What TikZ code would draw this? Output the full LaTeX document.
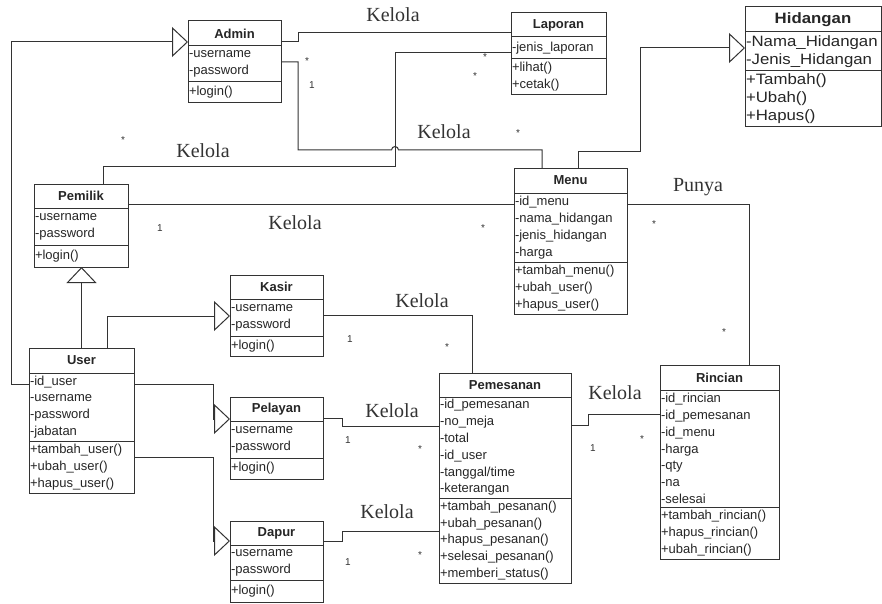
\documentclass[tikz,border=0pt]{standalone}
\usepackage{fontspec}
\setmainfont{Liberation Serif}
\newfontfamily\umlfont{Liberation Sans}
\newfontfamily\hidfont[FakeStretch=1.12]{Liberation Sans}
\usetikzlibrary{arrows.meta,positioning}

\tikzset{
  umltitle/.style={draw=black!80, line width=1pt, anchor=north west, inner sep=0pt, outer sep=0pt,
    text=black!85, font=\umlfont\fontsize{13}{16}\selectfont\bfseries},
  umlbody/.style={draw=black!80, line width=1pt, inner xsep=1pt, inner ysep=0pt, outer sep=0pt,
    align=left, text=black!85, font=\umlfont\fontsize{13}{16.8}\selectfont},
  assoc/.style={draw=black!80, line width=1pt},
  gen/.style={draw=black!80, line width=1pt, -{Triangle[open, length=16pt, width=30pt]}},
  rel/.style={inner sep=0pt, text=black!80, font=\fontsize{20}{20}\selectfont},
  mult/.style={inner sep=0pt, text=black!80, font=\umlfont\fontsize{10}{10}\selectfont}
}

\begin{document}
\begin{tikzpicture}[x=1pt,y=-1pt]
\path[fill=white] (0,0) rectangle (882,604);

% classes
\node[umltitle, minimum width=93pt, minimum height=25pt] (admin) at (188,21) {Admin};
\node[umlbody, text width=91pt, minimum height=36pt, below=0pt of admin] (adminA) {-username\\-password};
\node[umlbody, text width=91pt, minimum height=21pt, below=0pt of adminA] (adminM) {+login()};

\node[umltitle, minimum width=95pt, minimum height=24pt] (laporan) at (511,13) {Laporan};
\node[umlbody, text width=93pt, minimum height=22pt, below=0pt of laporan] (laporanA) {-jenis\_laporan};
\node[umlbody, text width=93pt, minimum height=36pt, below=0pt of laporanA] (laporanM) {+lihat()\\+cetak()};

\node[umltitle, minimum width=136pt, minimum height=25pt, font=\hidfont\fontsize{15}{19}\selectfont\bfseries] (hidangan) at (745,7) {Hidangan};
\node[umlbody, text width=134pt, minimum height=39pt, below=0pt of hidangan, font=\hidfont\fontsize{15}{18}\selectfont] (hidanganA) {-Nama\_Hidangan\\-Jenis\_Hidangan};
\node[umlbody, text width=134pt, minimum height=56pt, below=0pt of hidanganA, font=\hidfont\fontsize{15}{18}\selectfont] (hidanganM) {+Tambah()\\+Ubah()\\+Hapus()};

\node[umltitle, minimum width=94pt, minimum height=24pt] (pemilik) at (34,184) {Pemilik};
\node[umlbody, text width=92pt, minimum height=37pt, below=0pt of pemilik] (pemilikA) {-username\\-password};
\node[umlbody, text width=92pt, minimum height=22pt, below=0pt of pemilikA] (pemilikM) {+login()};

\node[umltitle, minimum width=113pt, minimum height=25pt] (menu) at (514,168) {Menu};
\node[umlbody, text width=111pt, minimum height=69pt, below=0pt of menu] (menuA) {-id\_menu\\-nama\_hidangan\\-jenis\_hidangan\\-harga};
\node[umlbody, text width=111pt, minimum height=52pt, below=0pt of menuA] (menuM) {+tambah\_menu()\\+ubah\_user()\\+hapus\_user()};

\node[umltitle, minimum width=93pt, minimum height=24pt] (kasir) at (230,275) {Kasir};
\node[umlbody, text width=91pt, minimum height=37pt, below=0pt of kasir] (kasirA) {-username\\-password};
\node[umlbody, text width=91pt, minimum height=20pt, below=0pt of kasirA] (kasirM) {+login()};

\node[umltitle, minimum width=105pt, minimum height=25pt] (user) at (29,348) {User};
\node[umlbody, text width=103pt, minimum height=68pt, below=0pt of user] (userA) {-id\_user\\-username\\-password\\-jabatan};
\node[umlbody, text width=103pt, minimum height=52pt, below=0pt of userA] (userM) {+tambah\_user()\\+ubah\_user()\\+hapus\_user()};

\node[umltitle, minimum width=93pt, minimum height=24pt] (pelayan) at (230,397) {Pelayan};
\node[umlbody, text width=91pt, minimum height=37pt, below=0pt of pelayan] (pelayanA) {-username\\-password};
\node[umlbody, text width=91pt, minimum height=21pt, below=0pt of pelayanA] (pelayanM) {+login()};

\node[umltitle, minimum width=93pt, minimum height=24pt] (dapur) at (230,521) {Dapur};
\node[umlbody, text width=91pt, minimum height=35pt, below=0pt of dapur] (dapurA) {-username\\-password};
\node[umlbody, text width=91pt, minimum height=22pt, below=0pt of dapurA] (dapurM) {+login()};

\node[umltitle, minimum width=132pt, minimum height=24pt] (pemesanan) at (439,373) {Pemesanan};
\node[umlbody, text width=130pt, minimum height=101pt, below=0pt of pemesanan] (pemesananA) {-id\_pemesanan\\-no\_meja\\-total\\-id\_user\\-tanggal/time\\-keterangan};
\node[umlbody, text width=130pt, minimum height=85pt, below=0pt of pemesananA] (pemesananM) {+tambah\_pesanan()\\+ubah\_pesanan()\\+hapus\_pesanan()\\+selesai\_pesanan()\\+memberi\_status()};

\node[umltitle, minimum width=119pt, minimum height=25pt] (rincian) at (660,365) {Rincian};
\node[umlbody, text width=117pt, minimum height=117pt, below=0pt of rincian] (rincianA) {-id\_rincian\\-id\_pemesanan\\-id\_menu\\-harga\\-qty\\-na\\-selesai};
\node[umlbody, text width=117pt, minimum height=52pt, below=0pt of rincianA] (rincianM) {+tambah\_rincian()\\+hapus\_rincian()\\+ubah\_rincian()};

% generalisation
\draw[gen] ([yshift=23pt]userA.west) -- ++(-18,0) |- ([yshift=-8.5pt]admin.west);
\draw[gen] (user.north) -- (user.north |- pemilikM.south);
\draw[gen] ([xshift=25.5pt]user.north) |- ([yshift=1.5pt]kasirA.west);
\draw[gen] ([yshift=23pt]userA.east) -| ([xshift=-17pt,yshift=-10pt]pelayan.west) -- ([yshift=-10pt]pelayan.west);
\draw[gen] ([yshift=10pt]userM.east) -| ([xshift=-17pt,yshift=-8pt]dapur.west) -- ([yshift=-8pt]dapur.west);
\draw[gen] ([xshift=7.5pt]menu.north) |- (640,152) |- ([yshift=3.5pt]hidanganA.west);

% associations
\draw[assoc] ([yshift=-8.5pt]admin.east) -- ++(17,0) |- ([yshift=-8pt]laporan.west);
\draw[assoc] ([yshift=2pt]adminA.east) -- ++(17,0) |- (391.5,150) arc[start angle=180, end angle=0, radius=3.5pt] -| ([xshift=-28.5pt]menu.north);
\draw[assoc] ([yshift=-5pt]laporanA.west) -| (395,166) -| ([xshift=22pt]pemilik.north);
\draw[assoc] ([yshift=-8pt]pemilik.east) -- ([yshift=23.5pt]menuA.west);
\draw[assoc] ([yshift=23.5pt]menuA.east) -| ([xshift=29.5pt]rincian.north);
\draw[assoc] ([yshift=2.5pt]kasirA.east) -| ([xshift=-33pt]pemesanan.north);
\draw[assoc] ([yshift=-9pt]pelayan.east) -- ++(19,0) |- ([yshift=21.5pt]pemesananA.west);
\draw[assoc] ([yshift=-8pt]dapur.east) -- ++(19,0) |- ([yshift=9.5pt]pemesananM.west);
\draw[assoc] ([yshift=22.5pt]pemesananA.east) -- ++(17,0) |- ([yshift=34.5pt]rincianA.west);

% labels
\node[rel] (lAdminLap) at (393,15) {Kelola};
\node[rel] (lLapPem) at (203,151) {Kelola};
\node[rel] (lAdminMenu) at (444,132) {Kelola};
\node[rel] (lPemMenu) at (295,223) {Kelola};
\node[rel] (lMenuRin) at (698,187) {Punya};
\node[rel] (lKasir) at (422,301) {Kelola};
\node[rel] (lPelayan) at (392,411) {Kelola};
\node[rel] (lDapur) at (387,512) {Kelola};
\node[rel] (lRincian) at (615,393) {Kelola};

% multiplicities
\node[mult] (m1) at (307,61) {*};
\node[mult] (m2) at (312,85) {1};
\node[mult] (m3) at (485,57) {*};
\node[mult] (m4) at (475,76) {*};
\node[mult] (m5) at (518,133) {*};
\node[mult] (m6) at (123,140) {*};
\node[mult] (m7) at (160,228) {1};
\node[mult] (m8) at (483,228) {*};
\node[mult] (m9) at (654,224) {*};
\node[mult] (m10) at (724,332) {*};
\node[mult] (m11) at (350,339) {1};
\node[mult] (m12) at (447,347) {*};
\node[mult] (m13) at (348,440) {1};
\node[mult] (m14) at (420,449) {*};
\node[mult] (m15) at (348,562) {1};
\node[mult] (m16) at (420,555) {*};
\node[mult] (m17) at (593,448) {1};
\node[mult] (m18) at (642,439) {*};
\end{tikzpicture}
\end{document}
